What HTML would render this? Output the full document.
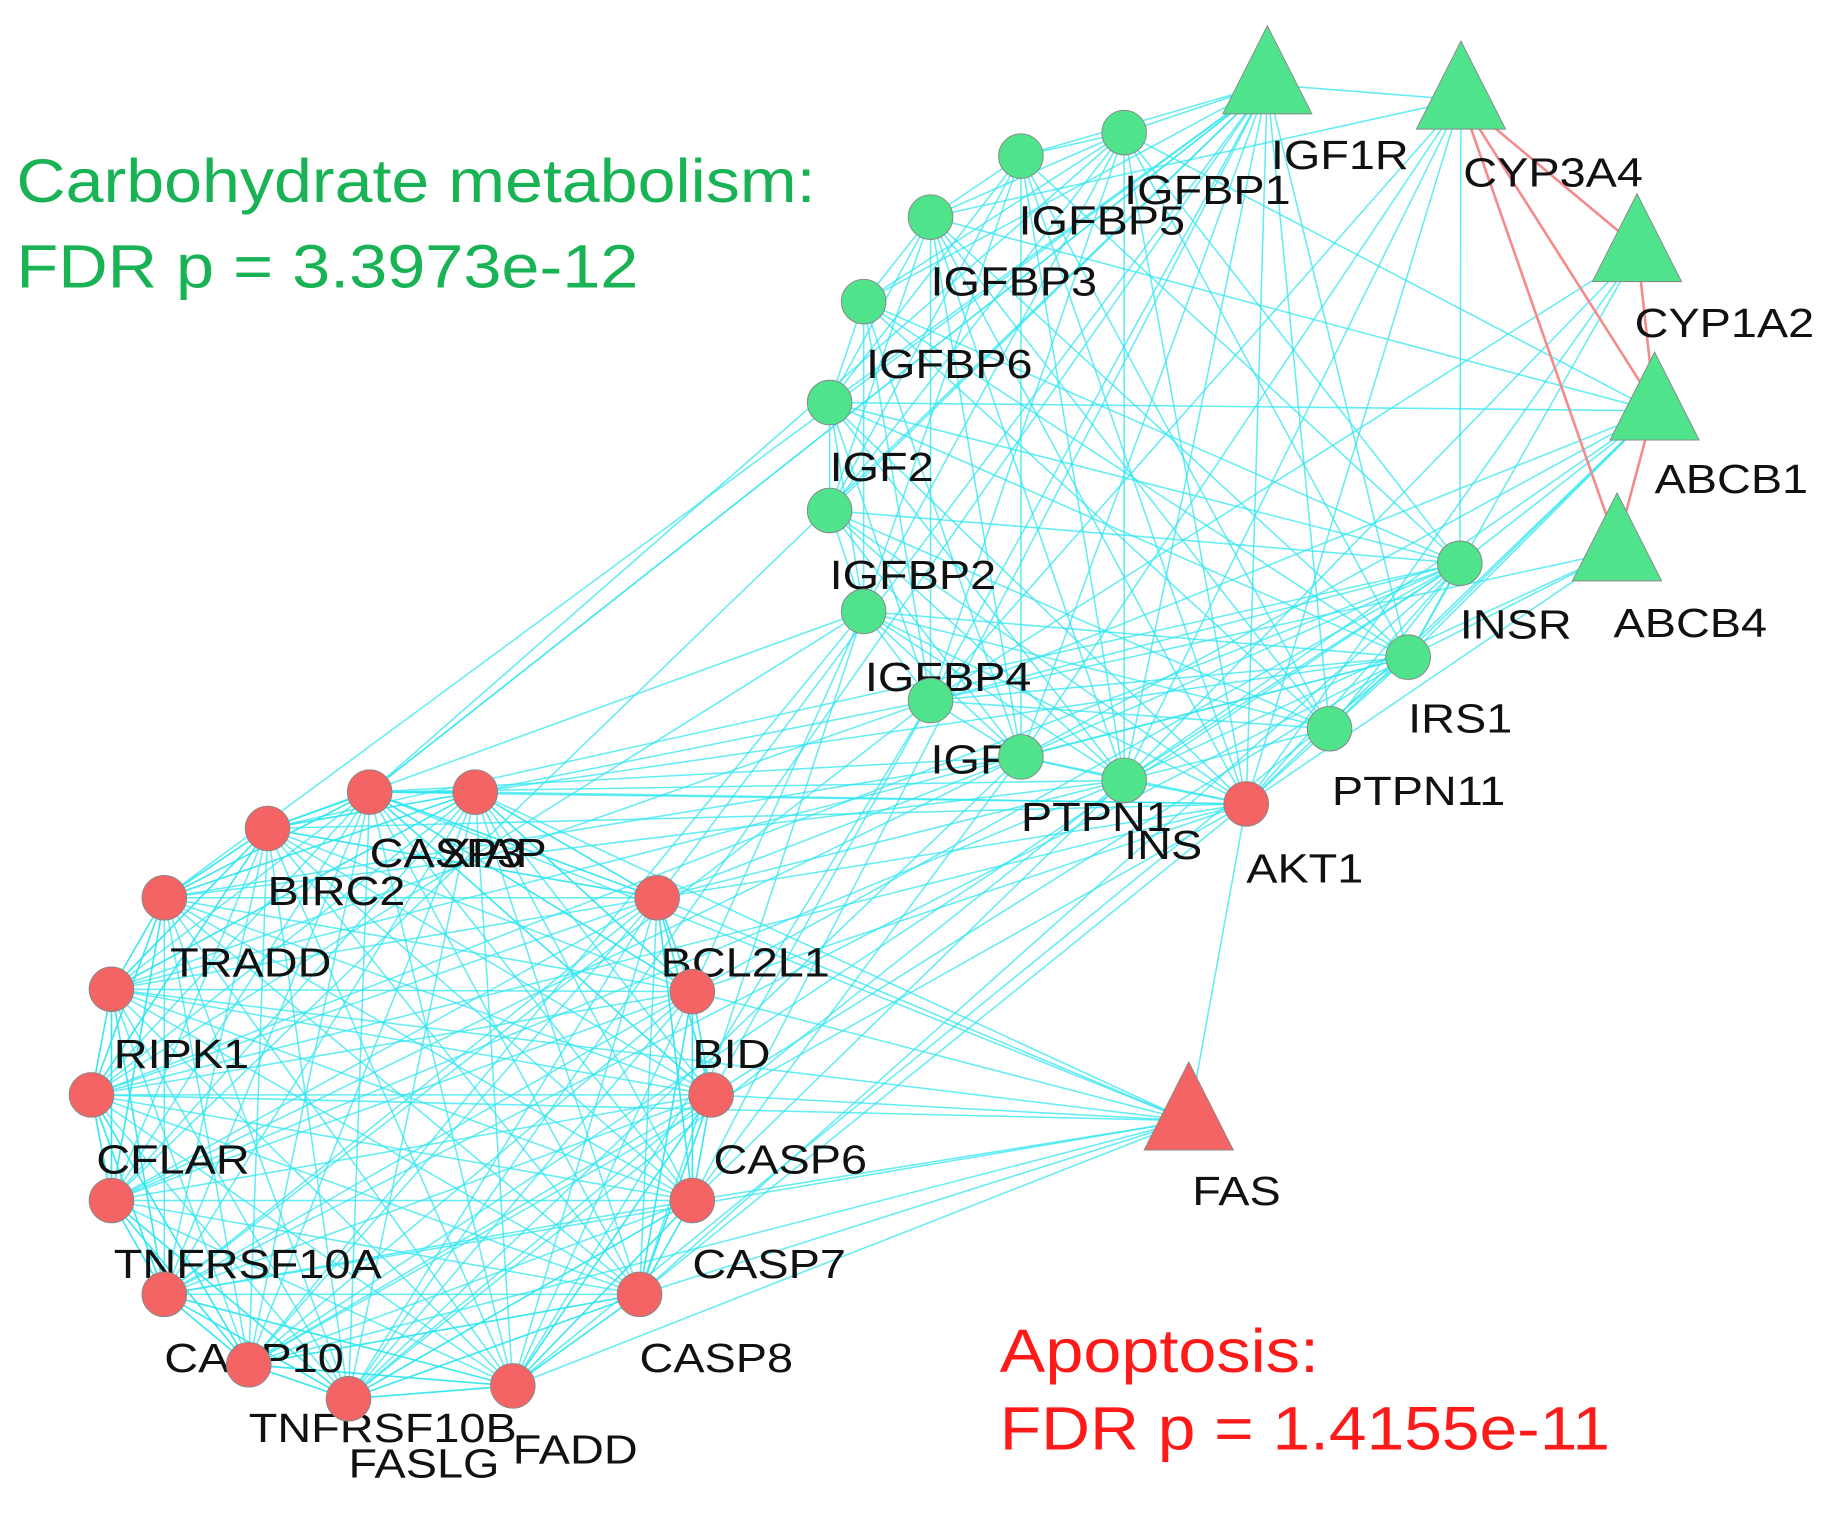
<!DOCTYPE html>
<html><head><meta charset="utf-8"><style>
html,body{margin:0;padding:0;background:#fff;}
svg{display:block;}
text{font-family:"Liberation Sans",sans-serif;}
</style></head><body>
<svg id="s" width="1840" height="1532" viewBox="0 0 1568 1305.5" xmlns="http://www.w3.org/2000/svg">
<rect width="1568" height="1306" fill="#fff"/>
<g id="edges" stroke="#2ee6f0" stroke-width="1.3" stroke-opacity="0.75" fill="none"></g>
<g stroke="#f48a8a" stroke-width="2.2" fill="none">
<line x1="1245" y1="85" x2="1395" y2="210"/>
<line x1="1245" y1="85" x2="1410" y2="345"/>
<line x1="1245" y1="85" x2="1378" y2="465"/>
<line x1="1395" y1="210" x2="1410" y2="345"/>
<line x1="1410" y1="345" x2="1378" y2="465"/>
</g>
<g id="labels" font-size="35" fill="#111"></g>
<g id="nodes" stroke="#888" stroke-width="0.8"></g>
<g id="titles" font-size="52">
<text x="14" y="172" fill="#19b355" data-w="681">Carbohydrate metabolism:</text>
<text x="14" y="245" fill="#19b355" data-w="530">FDR p = 3.3973e-12</text>
<text x="852" y="1169" fill="#ff1a1a" data-w="272">Apoptosis:</text>
<text x="852" y="1235" fill="#ff1a1a" data-w="520">FDR p = 1.4155e-11</text>
</g>
</svg>
<script>
var G='#4fe38c',R='#f56464';
var N={
IGFBP1:[958,113,'c',G,958,174],IGFBP5:[870,133,'c',G,868,200],IGFBP3:[793,185,'c',G,793,252],
IGFBP6:[736,257,'c',G,738,322],IGF2:[707,343,'c',G,707,410],IGFBP2:[707,435,'c',G,707,502],
IGFBP4:[736,521,'c',G,737,589],IGF1:[793,597,'c',G,793,659],PTPN1:[870,645,'c',G,870,708],
INS:[958,665,'c',G,958,732],INSR:[1244,480,'c',G,1244,544],IRS1:[1200,560,'c',G,1200,624],
PTPN11:[1133,621,'c',G,1135,686],AKT1:[1062,685,'c',R,1062,752],
IGF1R:[1080,62,'t',G,1083,144],CYP3A4:[1245,75,'t',G,1247,159],CYP1A2:[1395,205,'t',G,1393,287],
ABCB1:[1410,340,'t',G,1410,420],ABCB4:[1378,460,'t',G,1375,543],FAS:[1013,945,'t',R,1016,1027],
CASP3:[315,675,'c',R,315,739],XIAP:[405,675,'c',R,375,739],BIRC2:[228,706,'c',R,228,771],
TRADD:[140,765,'c',R,145,832],RIPK1:[95,843,'c',R,97,910],CFLAR:[78,933,'c',R,82,1000],
TNFRSF10A:[95,1023,'c',R,97,1089],CASP10:[140,1103,'c',R,140,1169],TNFRSF10B:[212,1163,'c',R,212,1229],
FASLG:[297,1192,'c',R,297,1259],FADD:[437,1181,'c',R,437,1247],CASP8:[545,1103,'c',R,545,1169],
CASP7:[590,1023,'c',R,590,1089],CASP6:[606,933,'c',R,608,1000],BID:[590,845,'c',R,590,910],
BCL2L1:[560,765,'c',R,563,832]};
var redC=['CASP3','XIAP','BIRC2','TRADD','RIPK1','CFLAR','TNFRSF10A','CASP10','TNFRSF10B','FASLG','FADD','CASP8','CASP7','CASP6','BID','BCL2L1'];
var grC=['IGFBP1','IGFBP5','IGFBP3','IGFBP6','IGF2','IGFBP2','IGFBP4','IGF1','PTPN1','INS','INSR','IRS1','PTPN11','AKT1','IGF1R'];
var E=[];
function add(a,b){E.push([a,b]);}
for(var i=0;i<redC.length;i++)for(var j=i+1;j<redC.length;j++){add(redC[i],redC[j]);if(j-i<=3||redC.length-(j-i)<=3)add(redC[i],redC[j]);}
for(var i=0;i<grC.length;i++)for(var j=i+1;j<grC.length;j++)if((i*7+j*3)%4!=0)add(grC[i],grC[j]);
['CASP3','XIAP','BCL2L1','BID','CASP6','CASP7','CASP8','FADD','TNFRSF10B','CASP10','RIPK1','CFLAR'].forEach(function(r){add('FAS',r);});
add('FAS','AKT1');
['INS','AKT1','IGF1','PTPN1','INSR','IRS1','IGF1R','IGFBP4'].forEach(function(g,k){
 redC.forEach(function(r,m){ if((k+m)%3==0) add(g,r);});});
add('CASP3','IGF1R');add('CASP3','IGFBP1');add('XIAP','AKT1');add('CASP3','AKT1');add('BCL2L1','AKT1');
['INS','INSR','IRS1','AKT1','PTPN11','IGF1','IGFBP1','IGFBP3','IGF2','PTPN1'].forEach(function(g){add('ABCB1',g);});
['INS','IRS1','AKT1','IGF1'].forEach(function(g){add('ABCB4',g);add('CYP1A2',g);});
['IGF1R','INS','IGF1','AKT1','IGFBP3','INSR','PTPN1'].forEach(function(g){add('CYP3A4',g);});
var ns='http://www.w3.org/2000/svg',eg=document.getElementById('edges'),lg=document.getElementById('labels'),ng=document.getElementById('nodes');
function ctr(n){var v=N[n];return v[2]=='t'?[v[0],v[1]+10]:[v[0],v[1]];}
E.forEach(function(e){var a=ctr(e[0]),b=ctr(e[1]);var l=document.createElementNS(ns,'line');
l.setAttribute('x1',a[0]);l.setAttribute('y1',a[1]);l.setAttribute('x2',b[0]);l.setAttribute('y2',b[1]);eg.appendChild(l);});
for(var k in N){var v=N[k];
 var t=document.createElementNS(ns,'text');t.setAttribute('x',v[4]);t.setAttribute('y',v[5]);t.textContent=k;lg.appendChild(t);
 var w=t.getComputedTextLength();t.setAttribute('textLength',w*1.14);t.setAttribute('lengthAdjust','spacingAndGlyphs');
 var s;
 if(v[2]=='c'){s=document.createElementNS(ns,'circle');s.setAttribute('cx',v[0]);s.setAttribute('cy',v[1]);s.setAttribute('r',19);}
 else{s=document.createElementNS(ns,'polygon');var x=v[0],y=v[1];
  s.setAttribute('points',(x)+','+(y-40)+' '+(x+38)+','+(y+35)+' '+(x-38)+','+(y+35));}
 s.setAttribute('fill',v[3]);ng.appendChild(s);}
document.querySelectorAll('#titles text').forEach(function(t){t.setAttribute('textLength',t.getAttribute('data-w'));t.setAttribute('lengthAdjust','spacingAndGlyphs');t.removeAttribute('data-w');});
</script>
</body></html>
